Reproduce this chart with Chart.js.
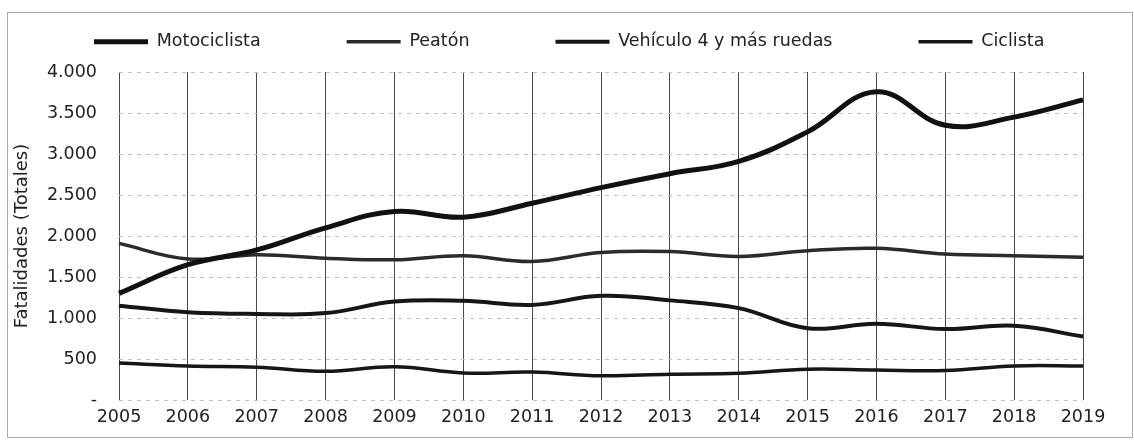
<!DOCTYPE html>
<html>
<head>
<meta charset="utf-8">
<script src="https://cdn.jsdelivr.net/npm/chart.js@4"></script>
<style>
    html, body { margin: 0; padding: 0; background: #ffffff; }
    .wrap { position: relative; width: 1134px; height: 444px; }
    .frame {
        position: absolute; left: 7px; top: 12px; right: 1px; bottom: 6px;
        border: 1px solid #a8a8a8; pointer-events: none;
    }
    canvas { position: absolute; left: 0; top: 0; }
</style>
</head>
<body>
<div class="wrap">
    <canvas id="fatalidadesChart" width="1134" height="444"></canvas>
    <div class="frame"></div>
</div>
<script>
// Fatalidades por tipo de usuario, 2005-2019
const years = ['2005', '2006', '2007', '2008', '2009', '2010', '2011', '2012',
    '2013', '2014', '2015', '2016', '2017', '2018', '2019'];

const motociclista = [1300, 1650, 1830, 2100, 2300, 2230, 2400, 2590, 2760, 2910, 3270, 3760, 3350, 3450, 3660];
const peaton = [1910, 1720, 1770, 1730, 1710, 1760, 1690, 1800, 1810, 1750, 1820, 1850, 1780, 1760, 1740];
const vehiculo = [1150, 1070, 1050, 1060, 1200, 1210, 1160, 1270, 1215, 1120, 875, 930, 865, 905, 775];
const ciclista = [450, 415, 400, 350, 405, 330, 340, 295, 315, 325, 375, 365, 360, 415, 415];

const yMin = 0;
const yMax = 4000;
const yStep = 500;

document.addEventListener('DOMContentLoaded', function() {
    const textColor = '#222222';
    const fontFamily = '"DejaVu Sans", sans-serif';

    // 4000 -> "4.000", 0 -> "-"
    function formatTick(v) {
        if (v === 0) return '-';
        return String(v).replace(/\B(?=(\d{3})+(?!\d))/g, '.');
    }

    // wide gaps between legend items, but keep the legend box short
    const legendHeight = {
        id: 'legendHeight',
        beforeInit(chart) {
            const fit = chart.legend.fit;
            chart.legend.fit = function() {
                fit.call(this);
                this.height = 125;
            };
        }
    };

    const ctx = document.getElementById('fatalidadesChart');

    new Chart(ctx.getContext('2d'), {
        type: 'line',
        data: {
            labels: years,
            datasets: [
                { label: 'Motociclista', data: motociclista, borderColor: '#111111', backgroundColor: '#111111', borderWidth: 5 },
                { label: 'Peatón', data: peaton, borderColor: '#2b2b2b', backgroundColor: '#2b2b2b', borderWidth: 3.5 },
                { label: 'Vehículo 4 y más ruedas', data: vehiculo, borderColor: '#161616', backgroundColor: '#161616', borderWidth: 4 },
                { label: 'Ciclista', data: ciclista, borderColor: '#161616', backgroundColor: '#161616', borderWidth: 3.5 }
            ]
        },
        options: {
            responsive: false,
            animation: false,
            elements: {
                line: { tension: 0.4, fill: false },
                point: { radius: 0, hoverRadius: 0 }
            },
            layout: { padding: { left: 8, right: 0, top: -53, bottom: 11 } },
            plugins: {
                legend: {
                    position: 'top',
                    align: 'start',
                    labels: {
                        color: textColor,
                        font: { family: fontFamily, size: 17.5 },
                        usePointStyle: true,
                        pointStyle: 'line',
                        pointStyleWidth: 54,
                        padding: 86
                    }
                },
                tooltip: { enabled: false }
            },
            scales: {
                x: {
                    afterFit: function(scale) { scale.height = 33; },
                    grid: { color: '#4a4a4a', lineWidth: 1, drawTicks: false },
                    border: { display: false },
                    ticks: {
                        color: textColor,
                        font: { family: fontFamily, size: 17.5 },
                        padding: 7,
                        maxRotation: 0
                    }
                },
                y: {
                    min: yMin,
                    max: yMax,
                    afterFit: function(scale) { scale.width = 111; },
                    grid: { color: '#c0c0c0', lineWidth: 1, drawTicks: false },
                    border: { display: false, dash: [4, 5] },
                    ticks: {
                        stepSize: yStep,
                        color: textColor,
                        font: { family: fontFamily, size: 17.5 },
                        padding: 22,
                        callback: formatTick
                    },
                    title: {
                        display: true,
                        text: 'Fatalidades (Totales)',
                        color: textColor,
                        font: { family: fontFamily, size: 18 },
                        padding: { top: 4, bottom: 0 }
                    }
                },
                // empty right-hand strip so the plot ends at the 2019 gridline
                yRight: {
                    position: 'right',
                    afterFit: function(scale) { scale.width = 51; },
                    grid: { display: false },
                    border: { display: false },
                    ticks: { display: false }
                }
            }
        },
        plugins: [legendHeight]
    });
});
</script>
</body>
</html>
